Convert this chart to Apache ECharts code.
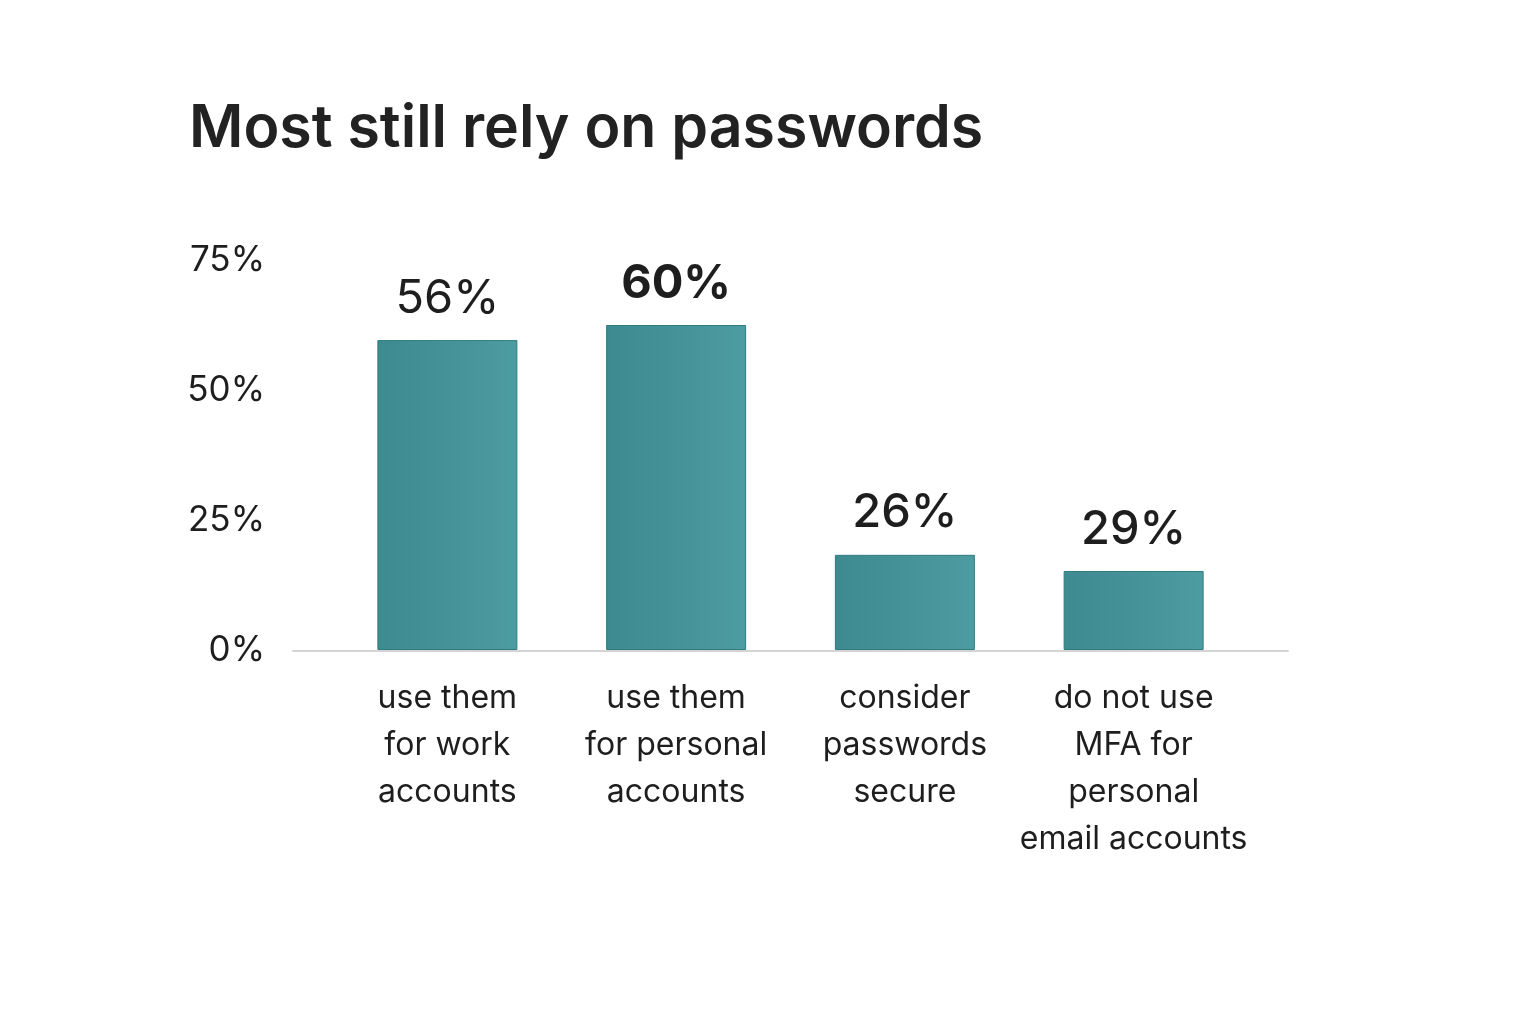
<!DOCTYPE html>
<html>
<head>
<meta charset="utf-8">
<title>Most still rely on passwords</title>
<script src="https://cdn.jsdelivr.net/npm/echarts@6/dist/echarts.min.js"></script>
<style>
  html, body { margin: 0; padding: 0; background: #fff; }
  #chart { width: 1536px; height: 1024px; }
</style>
</head>
<body>
<div id="chart"></div>
<script>
// categories (line breaks as in the picture)
const categories = [
  'use them\nfor work\naccounts',
  'use them\nfor personal\naccounts',
  'consider\npasswords\nsecure',
  'do not use\nMFA for\npersonal\nemail accounts'
];
const barValues = [59.6, 62.5, 18.3, 15.2];
// the printed labels above the bars
const valueLabels = ['56%', '60%', '26%', '29%'];
const labelWeights = [400, 700, 500, 500];
// y axis ticks
const yMin = 0;
const yMax = 75;
const yStep = 25;

const chart = echarts.init(document.getElementById('chart'), null, { renderer: 'canvas' });

const barFill = new echarts.graphic.LinearGradient(0, 0, 1, 0, [
  { offset: 0, color: '#3d8a90' },
  { offset: 1, color: '#4d9ca1' }
]);

const option = {
  backgroundColor: '#ffffff',
  animation: false,
  title: {
    text: 'Most still rely on passwords',
    left: 184,
    top: 95,
    textStyle: {
      fontFamily: 'Inter',
      fontSize: 59,
      fontWeight: 600,
      color: '#222222'
    }
  },
  grid: [
    { left: 333, right: 288, top: 260, bottom: 374 },
    // only used for the long baseline under the bars
    { left: 293, right: 248, top: 260, bottom: 373 }
  ],
  xAxis: [
    {
      type: 'category',
      gridIndex: 0,
      data: categories,
      axisLine: { show: false },
      axisTick: { show: false },
      axisLabel: {
        margin: 25,
        fontFamily: 'Inter',
        fontSize: 32,
        lineHeight: 47,
        color: '#1e1e1e',
        interval: 0
      }
    },
    {
      type: 'value',
      gridIndex: 1,
      min: 0,
      max: 1,
      axisLine: { show: true, lineStyle: { color: '#d4d4d4', width: 2 } },
      axisTick: { show: false },
      axisLabel: { show: false },
      splitLine: { show: false }
    }
  ],
  yAxis: [
    {
      type: 'value',
      gridIndex: 0,
      min: yMin,
      max: yMax,
      interval: yStep,
      axisLine: { show: false },
      axisTick: { show: false },
      splitLine: { show: false },
      axisLabel: {
        margin: 68,
        formatter: '{value}%',
        fontFamily: 'Inter',
        fontSize: 35,
        color: '#1e1e1e',
        padding: [0, 0, 16, 0]
      }
    },
    {
      type: 'value',
      gridIndex: 1,
      min: 0,
      max: 1,
      show: false
    }
  ],
  series: [{
    type: 'bar',
    xAxisIndex: 0,
    yAxisIndex: 0,
    barWidth: 140,
    data: barValues.map((v, i) => ({
      value: v,
      label: {
        formatter: valueLabels[i],
        fontWeight: labelWeights[i]
      }
    })),
    itemStyle: {
      color: barFill,
      borderColor: '#2f7b80',
      borderWidth: 1
    },
    label: {
      show: true,
      position: 'top',
      distance: 18,
      fontFamily: 'Inter',
      fontSize: 47,
      color: '#1e1e1e'
    }
  }]
};

chart.setOption(option);
</script>
</body>
</html>
